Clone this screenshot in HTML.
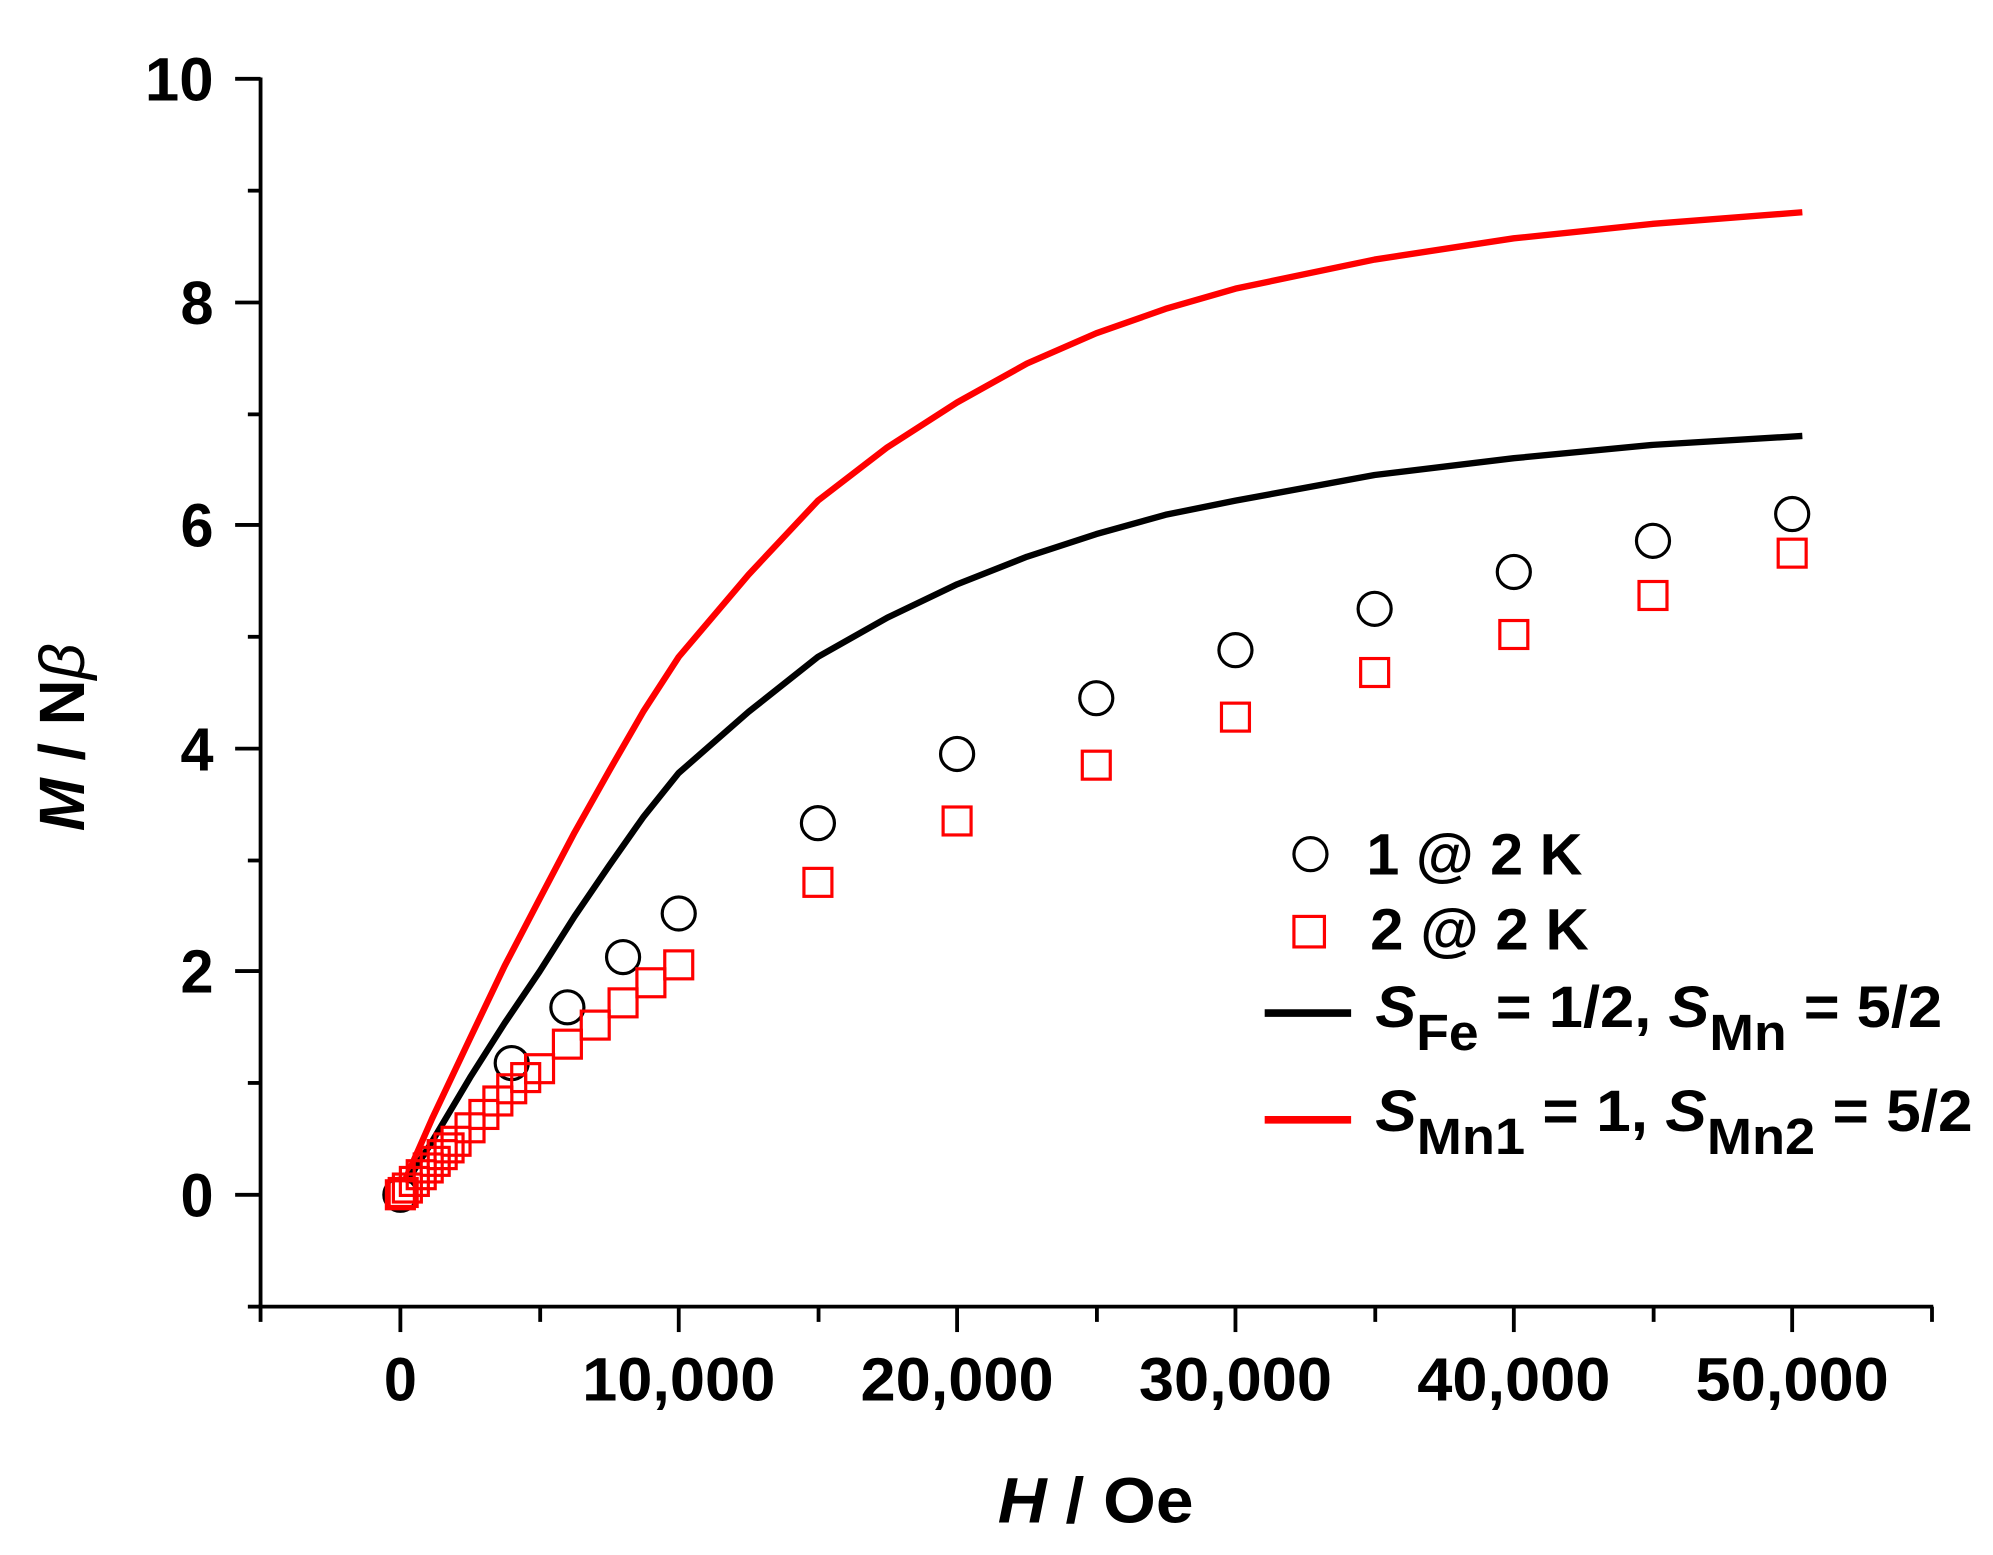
<!DOCTYPE html>
<html><head><meta charset="utf-8"><style>html,body{margin:0;padding:0;background:#fff}svg{display:block}</style></head><body>
<svg width="1993" height="1555" viewBox="0 0 1568 1223.4" preserveAspectRatio="none" xmlns="http://www.w3.org/2000/svg" font-family="Liberation Sans, Arial, sans-serif" font-weight="bold">
<rect width="1568" height="1224" fill="#fff"/>
<g stroke="#000" stroke-width="3" fill="none">
<line x1="205" y1="61" x2="205" y2="1028"/>
<line x1="203" y1="1028" x2="1521" y2="1028"/>
<line x1="185" y1="62" x2="205" y2="62"/><line x1="195" y1="150" x2="205" y2="150"/>
<line x1="185" y1="238" x2="205" y2="238"/><line x1="195" y1="326" x2="205" y2="326"/>
<line x1="185" y1="413" x2="205" y2="413"/><line x1="195" y1="501" x2="205" y2="501"/>
<line x1="185" y1="589" x2="205" y2="589"/><line x1="195" y1="677" x2="205" y2="677"/>
<line x1="185" y1="764" x2="205" y2="764"/><line x1="195" y1="852" x2="205" y2="852"/>
<line x1="185" y1="940" x2="205" y2="940"/><line x1="195" y1="1028" x2="205" y2="1028"/>
<line x1="205" y1="1028" x2="205" y2="1040"/><line x1="315" y1="1028" x2="315" y2="1048"/>
<line x1="425" y1="1028" x2="425" y2="1040"/><line x1="534" y1="1028" x2="534" y2="1048"/>
<line x1="644" y1="1028" x2="644" y2="1040"/><line x1="753" y1="1028" x2="753" y2="1048"/>
<line x1="863" y1="1028" x2="863" y2="1040"/><line x1="972" y1="1028" x2="972" y2="1048"/>
<line x1="1082" y1="1028" x2="1082" y2="1040"/><line x1="1191" y1="1028" x2="1191" y2="1048"/>
<line x1="1301" y1="1028" x2="1301" y2="1040"/><line x1="1410" y1="1028" x2="1410" y2="1048"/>
<line x1="1520" y1="1028" x2="1520" y2="1040"/>
</g>
<g font-size="48" text-anchor="end" fill="#000">
<text x="168" y="79" textLength="54" lengthAdjust="spacingAndGlyphs">10</text>
<text x="168" y="255" textLength="26" lengthAdjust="spacingAndGlyphs">8</text>
<text x="168" y="430" textLength="26" lengthAdjust="spacingAndGlyphs">6</text>
<text x="168" y="606" textLength="26" lengthAdjust="spacingAndGlyphs">4</text>
<text x="168" y="781" textLength="26" lengthAdjust="spacingAndGlyphs">2</text>
<text x="168" y="957" textLength="26" lengthAdjust="spacingAndGlyphs">0</text>
</g>
<g font-size="48" text-anchor="middle" fill="#000">
<text x="315" y="1102" textLength="26" lengthAdjust="spacingAndGlyphs">0</text>
<text x="534" y="1102" textLength="152" lengthAdjust="spacingAndGlyphs">10,000</text>
<text x="753" y="1102" textLength="152" lengthAdjust="spacingAndGlyphs">20,000</text>
<text x="972" y="1102" textLength="152" lengthAdjust="spacingAndGlyphs">30,000</text>
<text x="1191" y="1102" textLength="152" lengthAdjust="spacingAndGlyphs">40,000</text>
<text x="1410" y="1102" textLength="152" lengthAdjust="spacingAndGlyphs">50,000</text>
</g>
<text x="862" y="1198" font-size="50" text-anchor="middle" textLength="154" lengthAdjust="spacingAndGlyphs"><tspan font-style="italic">H</tspan> / Oe</text>
<text transform="translate(66,580) rotate(-90)" font-size="50" text-anchor="middle"><tspan font-style="italic">M</tspan> / N<tspan font-style="italic" font-weight="normal">β</tspan></text>
<polyline fill="none" stroke="#f00" stroke-width="5" stroke-linejoin="round" points="318,930 340,880 369.8,817 397,760 424.5,707.3 452,655 479.3,606.4 506,560 534,516.8 589,452 643.5,393.9 698,352 753,316.6 808,286 862.5,262.2 917,243 972,227.1 1081.5,204.2 1191,187.5 1300.5,176.1 1418,167"/>
<polyline fill="none" stroke="#000" stroke-width="5" stroke-linejoin="round" points="320,930 340,898 369.8,847.8 397,805 424.5,764.4 452,721 479.3,681 506,643 534,608.1 589,560 643.5,516.8 698,486 753,459.7 808,438 862.5,420.2 917,405 972,393.9 1081.5,373.7 1191,360.5 1300.5,350 1418,343"/>
<g fill="none" stroke="#000" stroke-width="2.5">
<circle cx="315" cy="940" r="13"/><circle cx="402.6" cy="836.4" r="13"/><circle cx="446.4" cy="792.5" r="13"/>
<circle cx="490.2" cy="753" r="13"/><circle cx="534" cy="718.7" r="13"/><circle cx="643.5" cy="647.6" r="13"/>
<circle cx="753" cy="593.2" r="13"/><circle cx="862.5" cy="549.3" r="13"/><circle cx="972" cy="511.5" r="13"/>
<circle cx="1081.5" cy="479" r="13"/><circle cx="1191" cy="450" r="13"/><circle cx="1300.5" cy="425.5" r="13"/>
<circle cx="1410" cy="404.4" r="13"/>
<circle cx="1031" cy="672" r="13"/>
</g>
<g fill="none" stroke="#f00" stroke-width="2.5">
<rect x="304" y="929" width="22" height="22"/><rect x="306.2" y="927.2" width="22" height="22"/>
<rect x="309.5" y="923.7" width="22" height="22"/><rect x="315" y="918.5" width="22" height="22"/>
<rect x="320.4" y="913.2" width="22" height="22"/><rect x="325.9" y="907.9" width="22" height="22"/>
<rect x="331.4" y="902.7" width="22" height="22"/><rect x="336.9" y="897.4" width="22" height="22"/>
<rect x="342.3" y="892.1" width="22" height="22"/><rect x="347.8" y="886.9" width="22" height="22"/>
<rect x="358.8" y="876.3" width="22" height="22"/><rect x="369.7" y="865.8" width="22" height="22"/>
<rect x="380.7" y="855.2" width="22" height="22"/><rect x="391.6" y="845.6" width="22" height="22"/>
<rect x="402.6" y="836.8" width="22" height="22"/><rect x="413.5" y="829.8" width="22" height="22"/>
<rect x="435.4" y="810.5" width="22" height="22"/><rect x="457.3" y="795.5" width="22" height="22"/>
<rect x="479.2" y="778" width="22" height="22"/><rect x="501.1" y="762.2" width="22" height="22"/>
<rect x="523" y="748.1" width="22" height="22"/><rect x="632.5" y="683.2" width="22" height="22"/>
<rect x="742" y="634.9" width="22" height="22"/><rect x="851.5" y="591" width="22" height="22"/>
<rect x="961" y="553.2" width="22" height="22"/><rect x="1070.5" y="518.1" width="22" height="22"/>
<rect x="1180" y="488.2" width="22" height="22"/><rect x="1289.5" y="457.5" width="22" height="22"/>
<rect x="1399" y="424.2" width="22" height="22"/>
<rect x="1018" y="721" width="24" height="24"/>
</g>
<g font-size="46" fill="#000">
<text x="1075" y="688" textLength="170" lengthAdjust="spacingAndGlyphs">1 @ 2 K</text>
<text x="1078" y="747" textLength="172" lengthAdjust="spacingAndGlyphs">2 @ 2 K</text>
<line x1="995" y1="797" x2="1063" y2="797" stroke="#000" stroke-width="6"/>
<text x="1082" y="808" textLength="446" lengthAdjust="spacingAndGlyphs"><tspan font-style="italic">S</tspan><tspan font-size="40" dy="18">Fe</tspan><tspan dy="-18"> = 1/2, </tspan><tspan font-style="italic">S</tspan><tspan font-size="40" dy="18">Mn</tspan><tspan dy="-18"> = 5/2</tspan></text>
<line x1="995" y1="881" x2="1063" y2="881" stroke="#f00" stroke-width="6"/>
<text x="1082" y="890" textLength="470" lengthAdjust="spacingAndGlyphs"><tspan font-style="italic">S</tspan><tspan font-size="40" dy="18">Mn1</tspan><tspan dy="-18"> = 1, </tspan><tspan font-style="italic">S</tspan><tspan font-size="40" dy="18">Mn2</tspan><tspan dy="-18"> = 5/2</tspan></text>
</g>
</svg>
</body></html>
